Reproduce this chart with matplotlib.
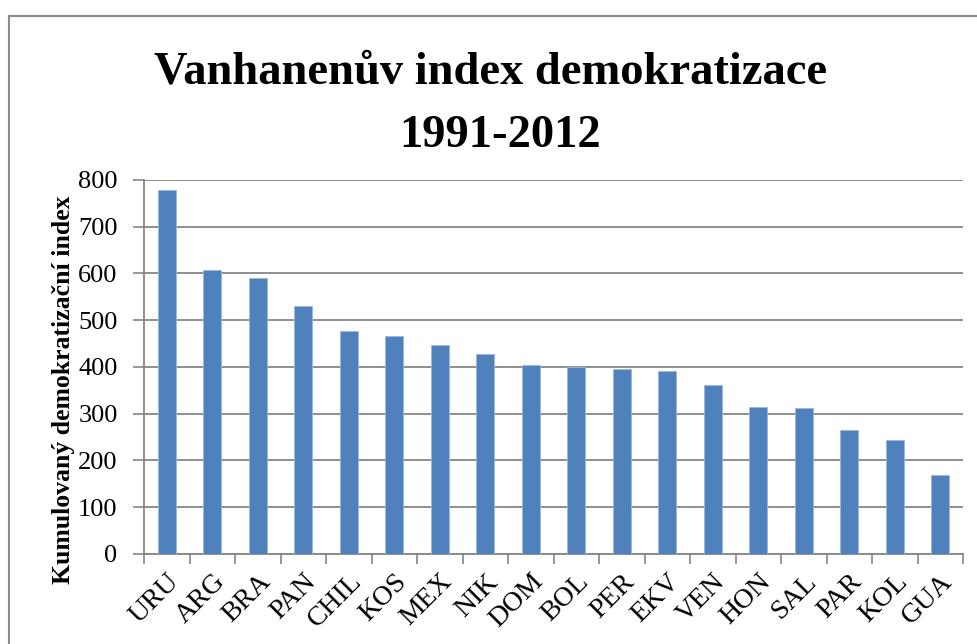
#!/usr/bin/env python3

import numpy as np
import matplotlib
matplotlib.use("Agg")
import matplotlib.pyplot as plt
from matplotlib.patches import Rectangle

# data
countries = ["URU", "ARG", "BRA", "PAN", "CHIL", "KOS", "MEX", "NIK", "DOM",
             "BOL", "PER", "EKV", "VEN", "HON", "SAL", "PAR", "KOL", "GUA"]
index_values = [779, 607, 591, 530, 476, 467, 446, 428, 404,
                401, 395, 392, 361, 314, 312, 265, 244, 169]
y_ticks = [0, 100, 200, 300, 400, 500, 600, 700, 800]

title_lines = ["Vanhanenův index demokratizace", "1991-2012"]
ylabel = "Kumulovaný demokratizační index"

bar_color = "#4F81BD"
grid_color = "#868686"


def main():
	plt.rcParams["font.family"] = ["Liberation Serif", "DejaVu Serif"]

	fig = plt.figure(figsize=(9.77, 6.44), dpi=100)
	ax = fig.add_axes([0.1474, 0.1398, 0.8383, 0.5807])

	x = np.arange(len(countries))
	ax.bar(x, index_values, width=0.39, color=bar_color, edgecolor="#9BB8DC", linewidth=0.6, zorder=3)

	ax.set_xlim(-0.5, len(countries) - 0.5)
	ax.set_ylim(0, 800)
	ax.set_yticks(y_ticks)
	ax.tick_params(axis="y", labelsize=19, length=8, width=1.2, color=grid_color, pad=11)
	ax.grid(axis="y", color=grid_color, linewidth=1.3, zorder=0)

	ax.set_xticks(x)
	ax.set_xticklabels(countries, rotation=45, ha="right", rotation_mode="anchor", fontsize=20)
	ax.tick_params(axis="x", which="major", length=0, pad=11)
	ax.set_xticks(np.arange(len(countries) + 1) - 0.5, minor=True)
	ax.tick_params(axis="x", which="minor", length=7, width=1.2, color=grid_color)

	for side in ("top", "right"):
		ax.spines[side].set_visible(False)
	for side in ("left", "bottom"):
		ax.spines[side].set_color(grid_color)
		ax.spines[side].set_linewidth(1.3)

	ax.set_ylabel(ylabel, fontsize=18.5, fontweight="bold")
	ax.yaxis.set_label_coords(-0.0842, 0.4385)

	# two title lines placed on their own baselines
	fig.text(491 / 977, 1 - 83 / 644, title_lines[0], ha="center", va="baseline",
		fontsize=33.5, fontweight="bold")
	fig.text(500 / 977, 1 - 147 / 644, title_lines[1], ha="center", va="baseline",
		fontsize=33.5, fontweight="bold")

	# chart frame, running off the right and bottom edges
	fig.patches.append(Rectangle((9 / 977, -0.05), 1.1, 1 - 16 / 644 + 0.05,
		transform=fig.transFigure, fill=False, edgecolor="#8C8C8C", linewidth=1.5))

	fig.savefig("out.png", dpi=100)


if __name__ == "__main__":
	main()
